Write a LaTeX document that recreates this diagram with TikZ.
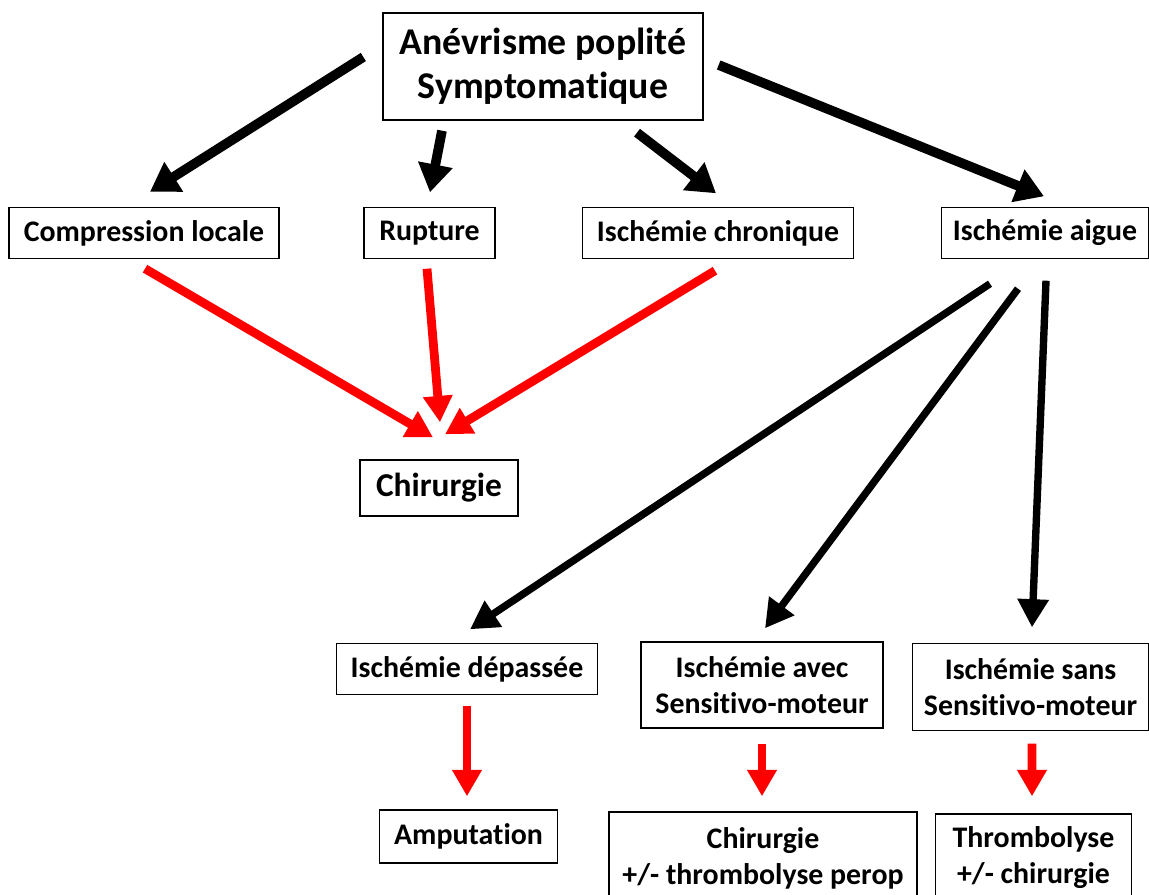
\documentclass[tikz,border=0pt]{standalone}
\usepackage{fontspec}
\setmainfont{Carlito}[Ligatures=NoCommon]
\usetikzlibrary{arrows.meta,calc}

\begin{document}
\begin{tikzpicture}[x=0.02cm, y=-0.02cm,
    box/.style={draw, line width=0.8pt, inner sep=0pt, align=center,
      font=\fontsize{17}{20.5}\selectfont\bfseries},
    bigarrow/.style={line width=5.5pt, -{Triangle[length=16pt, width=19pt]}},
    blkarrow/.style={line width=4.2pt, -{Triangle[length=16pt, width=17pt]}},
    redarrow/.style={red, line width=5pt, -{Triangle[length=15pt, width=16pt]}}]
  \useasboundingbox (0,0) rectangle (1149,895);

  % Top
  \node[box, minimum width=6.4cm, minimum height=2.14cm,
    font=\fontsize{21.5}{25}\selectfont\bfseries] (top) at (543,66.5)
    {Anévrisme poplité\\Symptomatique};

  % First level
  \node[box, minimum width=5.4cm, minimum height=1.02cm] (comp) at (144,233) {Compression locale};
  \node[box, minimum width=2.62cm, minimum height=1.02cm] (rupt) at (429.5,233) {Rupture};
  \node[box, minimum width=5.42cm, minimum height=1.02cm] (chron) at (718,233) {Ischémie chronique};
  \node[box, minimum width=4.14cm, minimum height=1.02cm] (aigue) at (1045,233) {Ischémie aigue};

  \node[box, minimum width=3.16cm, minimum height=1.12cm,
    font=\fontsize{19}{23}\selectfont\bfseries] (chir) at (439,488) {Chirurgie};

  % Acute ischemia
  \node[box, minimum width=5.22cm, minimum height=1.02cm] (depas) at (467,669) {Ischémie dépassée};
  \node[box, minimum width=4.84cm, minimum height=1.72cm] (avec) at (762,685) {Ischémie avec\\Sensitivo-moteur};
  \node[box, minimum width=4.72cm, minimum height=1.74cm] (sans) at (1030.5,687) {Ischémie sans\\Sensitivo-moteur};

  % Treatments
  \node[box, minimum width=3.56cm, minimum height=1.06cm] (amput) at (468.5,836.5) {Amputation};
  \node[box, minimum width=6.16cm, minimum height=1.84cm] (perop) at (763,858) {Chirurgie\\+/- thrombolyse perop};
  \node[box, minimum width=3.92cm, minimum height=1.76cm] (thromb) at (1033.5,858) {Thrombolyse\\+/- chirurgie};

  \draw[bigarrow] ($(top.west)+(-19,-9.5)$) -- ($(comp.north)+(6,-15)$);
  \draw[bigarrow] ($(top.south)+(-101,10)$) -- ($(rupt.north)+(0.5,-14.5)$);
  \draw[bigarrow] ($(top.south)+(94,12)$) -- ($(chron.north)+(-2,-13.5)$);
  \draw[bigarrow] ($(top.east)+(15,-1.5)$) -- ($(aigue.north)+(-1,-10.5)$);

  \draw[redarrow] ($(comp.south)+(1,9.5)$) -- ($(chir.north)+(-6,-22)$);
  \draw[redarrow] ($(rupt.south)+(-2.5,9.5)$) -- ($(chir.north)+(1,-37)$);
  \draw[redarrow] ($(chron.south)+(-3,11.5)$) -- ($(chir.north)+(6,-25)$);

  \draw[blkarrow] ($(aigue.south)+(-55,24.5)$) -- ($(depas.north)+(3,-13.5)$);
  \draw[blkarrow] ($(aigue.south)+(-27,29.5)$) -- ($(avec.north)+(3,-13)$);
  \draw[blkarrow] ($(aigue.south)+(1,21.5)$) -- ($(sans.north)+(1.5,-15.5)$);

  \draw[redarrow] ($(depas.south)+(0,10.5)$) -- ($(amput.north)+(-1.5,-13)$);
  \draw[redarrow] ($(avec.south)+(0,15)$) -- ($(perop.north)+(-1,-15)$);
  \draw[redarrow] ($(sans.south)+(1.5,12.5)$) -- ($(thromb.north)+(-1.5,-17)$);
\end{tikzpicture}
\end{document}
